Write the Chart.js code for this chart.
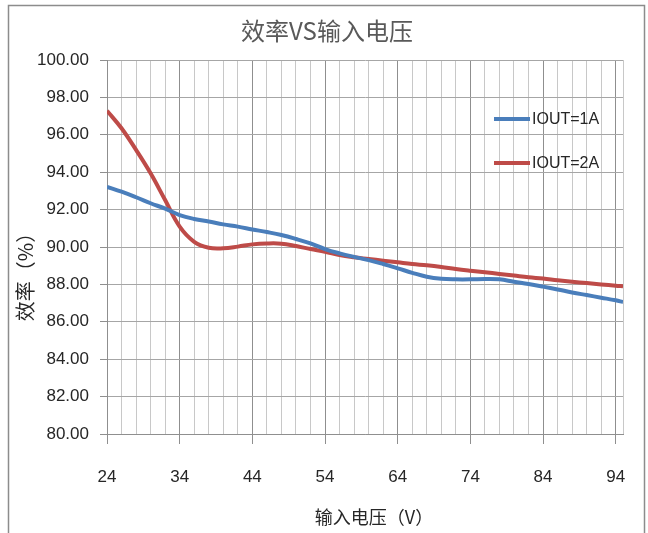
<!DOCTYPE html>
<html>
<head>
<meta charset="utf-8">
<script src="https://cdn.jsdelivr.net/npm/chart.js@4"></script>
<style>
  html, body { margin: 0; padding: 0; background: #fff; }
  #wrap { width: 648px; height: 533px; }
</style>
</head>
<body>
<div id="wrap"><canvas id="myChart" width="648" height="533"></canvas></div>
<script>
"use strict";

// input voltage (V)
const voltage = [24, 26, 28, 30, 32, 34, 36, 38, 40, 42, 44, 46, 48, 50, 52, 54, 56, 58,
  60, 62, 64, 66, 68, 70, 72, 74, 76, 78, 80, 82, 84, 86, 88, 90, 92, 94, 95];

// efficiency (%) at IOUT=1A
const eff1A = [93.22, 92.96, 92.66, 92.34, 92.05, 91.71, 91.50, 91.36, 91.21, 91.09, 90.94,
  90.80, 90.64, 90.43, 90.19, 89.89, 89.66, 89.47, 89.30, 89.09, 88.86, 88.62, 88.41, 88.30,
  88.27, 88.27, 88.29, 88.27, 88.14, 88.02, 87.88, 87.73, 87.57, 87.43, 87.29, 87.15, 87.06];

// efficiency (%) at IOUT=2A
const eff2A = [97.29, 96.35, 95.19, 93.94, 92.51, 91.09, 90.28, 89.96, 89.93, 90.02, 90.14,
  90.19, 90.18, 90.05, 89.89, 89.75, 89.57, 89.45, 89.36, 89.27, 89.18, 89.09, 89.02, 88.93,
  88.82, 88.73, 88.65, 88.56, 88.47, 88.38, 88.31, 88.22, 88.14, 88.07, 88.00, 87.93, 87.90];

const seriesNames = ["IOUT=1A", "IOUT=2A"];
const xTicks = [24, 26, 28, 30, 32, 34, 36, 38, 40, 42, 44, 46, 48, 50, 52, 54, 56, 58,
  60, 62, 64, 66, 68, 70, 72, 74, 76, 78, 80, 82, 84, 86, 88, 90, 92, 94, 95];
const xLabels = [24, 34, 44, 54, 64, 74, 84, 94];

const chartTitle = "效率VS输入电压";
const latin = "'Liberation Sans', Arial, sans-serif";
const cjk = "'Noto Sans CJK SC', sans-serif";

function toPoints(xs, ys) {
  return xs.map((x, i) => ({ x: x, y: ys[i] }));
}

// frame round the whole chart and the title above it
const framePlugin = {
  id: "frame",
  beforeDraw(chart) {
    const ctx = chart.ctx;
    ctx.save();
    ctx.strokeStyle = "#8c8c8c";
    ctx.lineWidth = 1.5;
    ctx.strokeRect(8.5, 5.5, 636, 540);
    ctx.fillStyle = "#595959";
    ctx.font = "24px " + cjk;
    ctx.textAlign = "center";
    ctx.textBaseline = "middle";
    ctx.fillText(chartTitle, 327, 31);
    ctx.restore();
  },
};

// legend drawn inside the plot area on the right
const innerLegend = {
  id: "innerLegend",
  afterDatasetsDraw(chart) {
    const ctx = chart.ctx;
    const rows = [119, 163];
    ctx.save();
    chart.data.datasets.forEach((ds, i) => {
      const y = rows[i];
      ctx.strokeStyle = ds.borderColor;
      ctx.lineWidth = 4;
      ctx.beginPath();
      ctx.moveTo(494, y);
      ctx.lineTo(530, y);
      ctx.stroke();
      ctx.fillStyle = "#262626";
      ctx.font = "16px " + latin;
      ctx.textBaseline = "middle";
      ctx.textAlign = "left";
      ctx.fillText(ds.label, 532, y + 1);
    });
    ctx.restore();
  },
};

const ctx = document.getElementById("myChart");
const myChart = new Chart(ctx, {
  type: "line",
  data: {
    datasets: [
      {
        label: seriesNames[0],
        data: toPoints(voltage, eff1A),
        borderColor: "#4a7ebb",
        borderWidth: 4,
        pointRadius: 0,
        tension: 0.4,
        fill: false,
      },
      {
        label: seriesNames[1],
        data: toPoints(voltage, eff2A),
        borderColor: "#be4b48",
        borderWidth: 4,
        pointRadius: 0,
        tension: 0.4,
        fill: false,
      },
    ],
  },
  options: {
    responsive: false,
    animation: false,
    layout: { padding: { left: 0, right: 25, top: 60, bottom: 0 } },
    plugins: {
      legend: { display: false },
      tooltip: { enabled: false },
    },
    scales: {
      x: {
        type: "linear",
        min: 24,
        max: 95,
        afterBuildTicks(scale) {
          scale.ticks = xTicks.map((v) => ({ value: v }));
        },
        afterFit(scale) {
          scale.height = 99;
        },
        ticks: {
          autoSkip: false,
          maxRotation: 0,
          padding: 23,
          color: "#262626",
          font: { family: latin, size: 17 },
          callback: (v) => (xLabels.includes(v) ? String(v) : ""),
        },
        grid: {
          color: (c) => (xLabels.includes(c.tick && c.tick.value) ? "#8f8f8f" : "#c8c8c8"),
          tickColor: (c) => (xLabels.includes(c.tick && c.tick.value) ? "#8f8f8f" : "rgba(0,0,0,0)"),
          tickLength: 10,
        },
        border: { color: "#8f8f8f" },
        title: {
          display: true,
          text: "　输入电压（V）",
          color: "#262626",
          font: { family: cjk, size: 18 },
          padding: { top: 0, bottom: 5 },
        },
      },
      y: {
        min: 80,
        max: 100,
        afterFit(scale) {
          scale.width = 107;
        },
        ticks: {
          stepSize: 2,
          padding: 11,
          color: "#262626",
          font: { family: latin, size: 17 },
          callback: (v) => v.toFixed(2),
        },
        grid: {
          color: "#a6a6a6",
          tickColor: "#8f8f8f",
          tickLength: 7,
        },
        border: { color: "#8f8f8f" },
        title: {
          display: true,
          text: "效率（%）　　　",
          color: "#262626",
          font: { family: cjk, size: 20 },
          padding: { top: 13, bottom: 0 },
        },
      },
    },
  },
  plugins: [framePlugin, innerLegend],
});
</script>
</body>
</html>
